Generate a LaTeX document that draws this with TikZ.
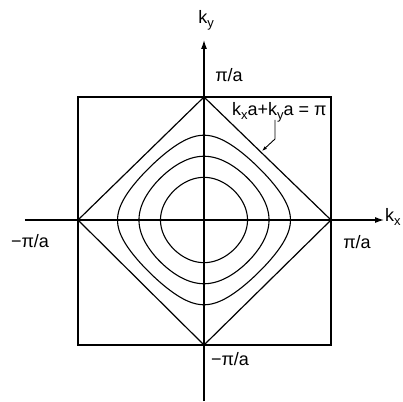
\documentclass[tikz,border=0pt]{standalone}
\usepackage{fontspec}
\setmainfont{Liberation Sans}
\usetikzlibrary{arrows.meta}
\newcommand\mysub[1]{\raisebox{-0.4ex}{\fontsize{13}{13}\selectfont #1}}
\begin{document}
\begin{tikzpicture}[x=1pt,y=1pt,
  lbl/.style={inner sep=0pt,font=\fontsize{18}{20}\selectfont},
  axis/.style={line width=1.2pt,-{Latex[length=9pt,width=6pt]}},
  frame/.style={line width=1.2pt},
  curve/.style={line width=1.1pt},
  leader/.style={line width=0.9pt,-{Latex[length=5pt,width=3.5pt]}}]
\useasboundingbox (-204,-181) rectangle (199,220);
% Brillouin zone square
\draw[frame] (-126,-125) rectangle (127,123);
% axes
\coordinate (xl) at (-179,0);
\coordinate (xr) at (180,0);
\coordinate (yb) at (0,-181);
\coordinate (yt) at (0,180);
\draw[axis] (xl) -- (xr);
\draw[axis] (yb) -- (yt);
% diamond
\coordinate (dl) at (-126,0);
\coordinate (dr) at (127,0);
\coordinate (dt) at (0,123);
\coordinate (db) at (0,-125);
\draw[frame] (dl) -- (dt) -- (dr) -- (db) -- cycle;
% constant energy contours
\foreach \c in {1.471,0.956,0.455}{
  \foreach \sx/\sy in {1/1,-1/1,1/-1,-1/-1}{
    \draw[curve,xscale=\sx,yscale=\sy] plot[domain=0:90,samples=60,variable=\s,smooth]
      ({126.5*acos(min(1,\c/2+(1-\c/2)*cos(2*\s)))/180},
       {124*acos(min(1,\c/2-(1-\c/2)*cos(2*\s)))/180});
  }
}
% labels
\node[lbl] (ky) at (2,200) {k\mysub{y}};
\node[lbl,anchor=west] (kx) at (181,3) {k\mysub{x}};
\node[lbl] (pt) at (25,145) {π/a};
\node[lbl] (ml) at (-174,-21) {−π/a};
\node[lbl] (pr) at (153,-22) {π/a};
\node[lbl] (mb) at (26,-139) {−π/a};
\node[lbl,anchor=base west] (eq) at (28,104) {k\mysub{x}a+k\mysub{y}a = π};
% leader
\coordinate (l1) at (71,100);
\coordinate (l2) at (71,81);
\coordinate (l3) at (58,69);
\draw[leader] (l1) -- (l2) -- (l3);
\end{tikzpicture}
\end{document}
